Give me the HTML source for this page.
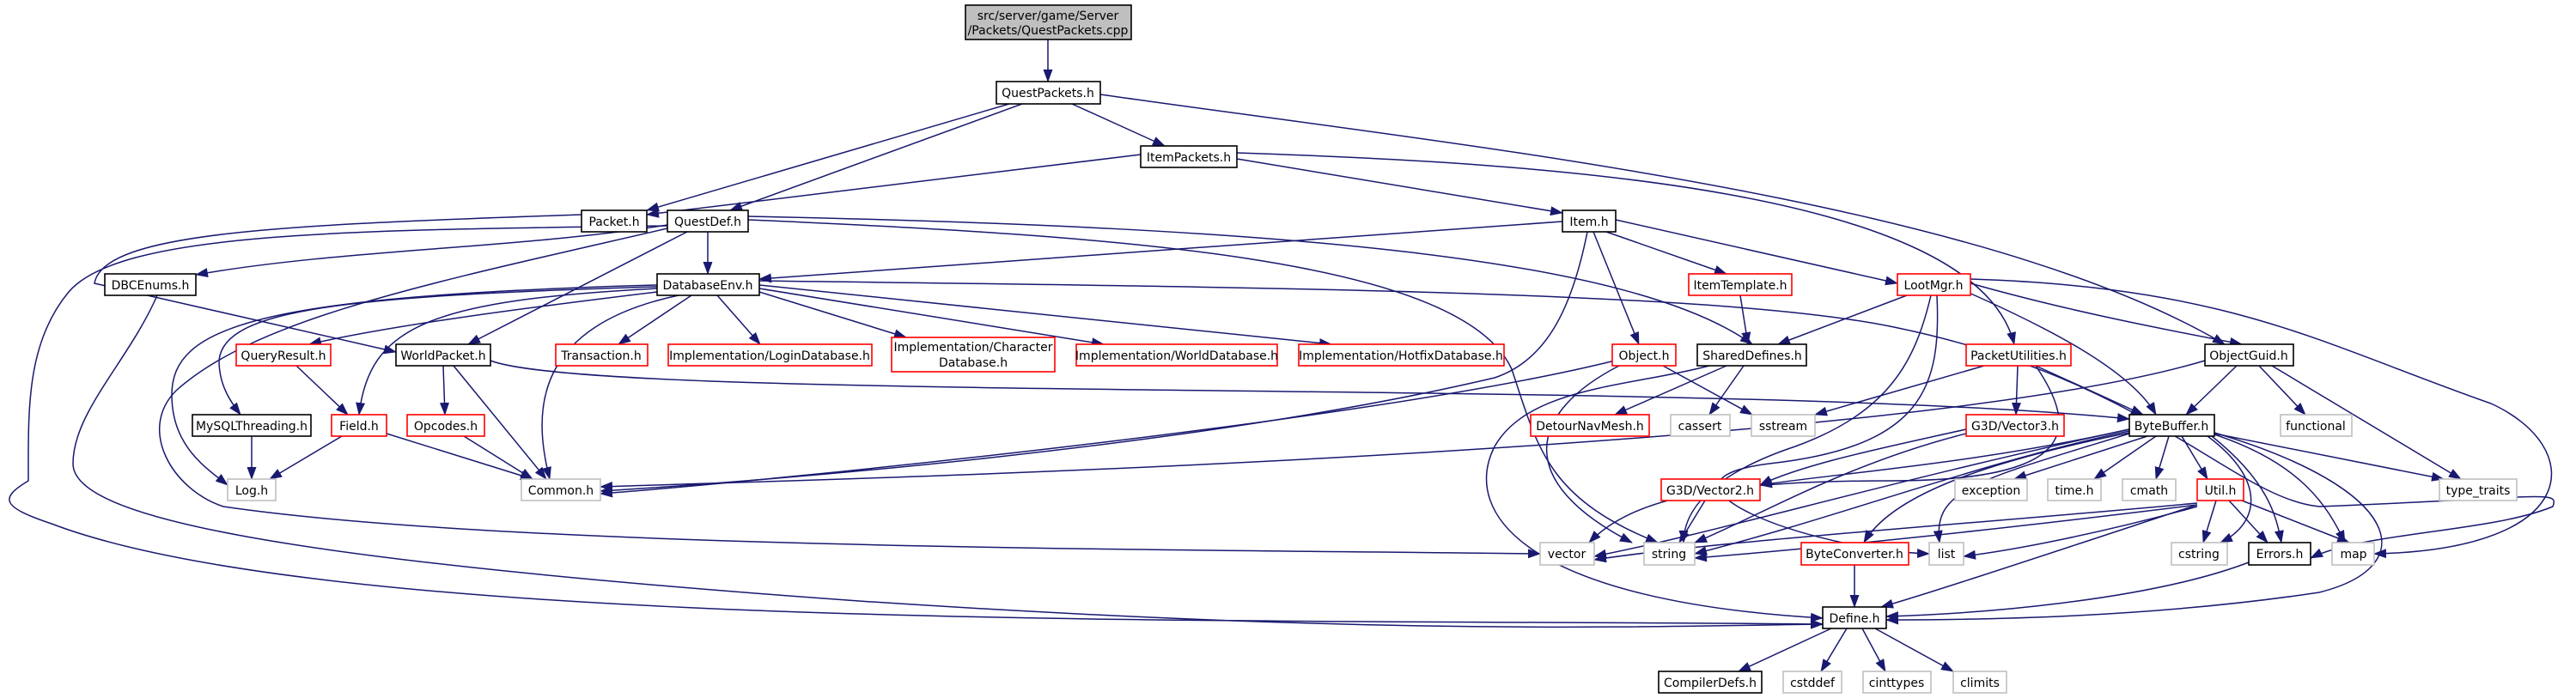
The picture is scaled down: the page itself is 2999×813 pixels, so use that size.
<!DOCTYPE html>
<html><head><meta charset="utf-8"><style>
html,body{margin:0;padding:0;background:#fff;}
svg{display:block;}
text{font-family:"DejaVu Sans","Liberation Sans",sans-serif;font-size:14px;fill:#000;text-anchor:middle;}
.b{fill:#fff;stroke:#000;stroke-width:1.6;}
.r{fill:#fff;stroke:#ff0000;stroke-width:1.6;}
.g{fill:#fff;stroke:#bfbfbf;stroke-width:1.6;}
.e{fill:none;stroke:#191970;stroke-width:1.5;marker-end:url(#a);}
</style></head><body>
<svg width="2999" height="813" viewBox="0 0 2999 813" xmlns="http://www.w3.org/2000/svg">
<defs><marker id="a" markerUnits="userSpaceOnUse" markerWidth="15" markerHeight="11" refX="14" refY="5.5" orient="auto"><path d="M0,0 L15,5.5 L0,11 z" fill="#191970"/></marker></defs>
<g>
<path class="e" d="M1220,46 L1220,95"/>
<path class="e" d="M1175,121 L753,245"/>
<path class="e" d="M1190,121 L850,245"/>
<path class="e" d="M1248,121 L1356,170"/>
<path class="e" d="M1281,110 C1700,170 2300,230 2590,401"/>
<path class="e" d="M1328,180 L753,250"/>
<path class="e" d="M1440,185 L1819,248"/>
<path class="e" d="M1440,178 C1800,190 2300,220 2345,401"/>
<path class="e" d="M677,250 C330,262 120,270 110,330 L461,410"/>
<path class="e" d="M777,262 C600,290 400,290 228,320"/>
<path class="e" d="M824,270 L824,319"/>
<path class="e" d="M800,270 L545,401"/>
<path class="e" d="M871,252 C1500,265 1900,300 2040,401"/>
<path class="e" d="M777,263 C400,268 140,270 80,340 C30,400 33,480 33,560 C0,580 0,590 60,610 C400,740 1500,720 2122,727"/>
<path class="e" d="M777,266 C500,330 300,370 205,455 C160,500 200,570 260,590 C600,640 1400,640 1793,645"/>
<path class="e" d="M871,256 C1300,275 1700,300 1760,430 C1790,520 1800,580 1930,632"/>
<path class="e" d="M183,344 C150,420 85,480 85,540 C85,600 300,650 1000,700 C1600,740 1900,730 2122,727"/>
<path class="e" d="M1819,258 L884,325"/>
<path class="e" d="M1870,270 L2010,319"/>
<path class="e" d="M1881,256 L2209,330"/>
<path class="e" d="M1855,270 L1908,401"/>
<path class="e" d="M1848,270 C1830,360 1800,420 1740,440 C1400,520 900,560 699,572"/>
<path class="e" d="M765,340 C600,360 450,380 360,401"/>
<path class="e" d="M765,334 C400,345 260,360 255,420 C255,450 270,470 280,483"/>
<path class="e" d="M765,336 C500,350 430,380 418,483"/>
<path class="e" d="M765,332 C300,345 200,380 200,460 C200,520 240,545 265,565"/>
<path class="e" d="M790,344 C620,380 620,480 640,558"/>
<path class="e" d="M805,344 L720,401"/>
<path class="e" d="M835,344 L885,401"/>
<path class="e" d="M884,340 L1055,393"/>
<path class="e" d="M884,336 L1285,401"/>
<path class="e" d="M884,332 L1550,401"/>
<path class="e" d="M884,327 C1500,335 2000,340 2200,380 C2500,440 2600,580 2700,590 C2960,580 2980,570 2972,590 C2900,620 2750,620 2690,650"/>
<path class="e" d="M2026,344 L2035,401"/>
<path class="e" d="M2220,344 L2070,401"/>
<path class="e" d="M2294,330 C2400,360 2500,380 2610,401"/>
<path class="e" d="M2294,325 C2600,335 2700,400 2900,470 C3010,520 3010,640 2764,645"/>
<path class="e" d="M2290,340 C2380,380 2480,430 2510,483"/>
<path class="e" d="M2248,344 C2230,420 2200,480 2090,520 C2000,550 1960,590 1960,632"/>
<path class="e" d="M2255,344 C2260,450 2240,520 2060,540 C1900,560 2100,640 2246,645"/>
<path class="e" d="M1880,420 C1600,490 900,560 699,575"/>
<path class="e" d="M1936,426 L2040,483"/>
<path class="e" d="M1885,426 C1780,480 1760,560 1900,632"/>
<path class="e" d="M2010,426 L1880,483"/>
<path class="e" d="M2030,426 L1990,483"/>
<path class="e" d="M1990,426 C1900,450 1780,450 1740,520 C1700,600 1780,700 2122,720"/>
<path class="e" d="M516,426 L518,483"/>
<path class="e" d="M528,426 L636,558"/>
<path class="e" d="M571,420 C700,470 2000,440 2479,488"/>
<path class="e" d="M345,426 L405,483"/>
<path class="e" d="M293,508 L293,558"/>
<path class="e" d="M398,508 L314,558"/>
<path class="e" d="M450,505 L620,558"/>
<path class="e" d="M540,508 L620,558"/>
<path class="e" d="M2310,426 L2113,483"/>
<path class="e" d="M2349,426 L2347,483"/>
<path class="e" d="M2370,426 L2495,483"/>
<path class="e" d="M2370,426 C2420,500 2420,560 2200,560 C2000,560 1900,580 1850,632"/>
<path class="e" d="M2604,426 L2545,483"/>
<path class="e" d="M2630,426 L2684,483"/>
<path class="e" d="M2645,426 L2865,558"/>
<path class="e" d="M2567,420 C2200,530 900,560 699,567"/>
<path class="e" d="M2289,500 C2200,520 2100,540 2049,565"/>
<path class="e" d="M2289,505 C2150,540 2050,600 1973,632"/>
<path class="e" d="M1985,583 L1955,632"/>
<path class="e" d="M2479,500 C2300,540 2150,550 2049,565"/>
<path class="e" d="M2500,508 L2345,558"/>
<path class="e" d="M2510,508 L2438,558"/>
<path class="e" d="M2525,508 L2510,558"/>
<path class="e" d="M2540,508 L2570,558"/>
<path class="e" d="M2578,505 L2845,558"/>
<path class="e" d="M2570,508 C2640,560 2630,610 2585,632"/>
<path class="e" d="M2575,508 C2640,560 2650,600 2656,632"/>
<path class="e" d="M2578,506 C2680,540 2710,590 2730,632"/>
<path class="e" d="M2578,504 C2800,570 2820,660 2700,690 C2500,720 2300,722 2196,722"/>
<path class="e" d="M2479,505 C2300,560 2250,570 2258,632"/>
<path class="e" d="M2479,502 C2300,540 2150,600 1973,645"/>
<path class="e" d="M2479,500 C2200,560 2000,620 1856,648"/>
<path class="e" d="M2479,504 C2300,540 2200,580 2170,632"/>
<path class="e" d="M2558,590 C2450,620 2350,640 2286,648"/>
<path class="e" d="M2558,588 C2300,620 2100,640 1973,650"/>
<path class="e" d="M2558,586 C2300,610 2000,630 1856,652"/>
<path class="e" d="M2558,588 C2400,640 2250,690 2190,707"/>
<path class="e" d="M2580,583 L2565,632"/>
<path class="e" d="M2595,583 L2640,632"/>
<path class="e" d="M2610,583 L2735,632"/>
<path class="e" d="M2159,658 L2159,707"/>
<path class="e" d="M2618,655 C2500,700 2300,715 2196,718"/>
<path class="e" d="M2132,732 L2024,782"/>
<path class="e" d="M2150,732 L2120,782"/>
<path class="e" d="M2168,732 L2195,782"/>
<path class="e" d="M2183,732 L2274,782"/>
</g>
<g>
<rect x="1124" y="6" width="193" height="40" fill="#bfbfbf" stroke="#000" stroke-width="1.6"/>
<text x="1220" y="23">src/server/game/Server</text><text x="1220" y="40">/Packets/QuestPackets.cpp</text>
<rect class="b" x="1160" y="95" width="121" height="26"/><text x="1220" y="113">QuestPackets.h</text>
<rect class="b" x="1328" y="170" width="112" height="25"/><text x="1384" y="188">ItemPackets.h</text>
<rect class="b" x="677" y="245" width="76" height="25"/><text x="715" y="263">Packet.h</text>
<rect class="b" x="777" y="245" width="94" height="25"/><text x="824" y="263">QuestDef.h</text>
<rect class="b" x="1819" y="245" width="62" height="25"/><text x="1850" y="263">Item.h</text>
<rect class="b" x="122" y="319" width="106" height="25"/><text x="175" y="337">DBCEnums.h</text>
<rect class="b" x="765" y="319" width="119" height="25"/><text x="824" y="337">DatabaseEnv.h</text>
<rect class="r" x="1966" y="319" width="120" height="25"/><text x="2026" y="337">ItemTemplate.h</text>
<rect class="r" x="2209" y="319" width="85" height="25"/><text x="2251" y="337">LootMgr.h</text>
<rect class="r" x="275" y="401" width="110" height="25"/><text x="330" y="419">QueryResult.h</text>
<rect class="b" x="461" y="401" width="110" height="25"/><text x="516" y="419">WorldPacket.h</text>
<rect class="r" x="647" y="401" width="107" height="25"/><text x="700" y="419">Transaction.h</text>
<rect class="r" x="778" y="401" width="237" height="25"/><text x="896" y="419">Implementation/LoginDatabase.h</text>
<rect class="r" x="1038" y="393" width="190" height="40"/><text x="1133" y="409">Implementation/Character</text><text x="1133" y="427">Database.h</text>
<rect class="r" x="1253" y="401" width="234" height="25"/><text x="1370" y="419">Implementation/WorldDatabase.h</text>
<rect class="r" x="1512" y="401" width="239" height="25"/><text x="1631" y="419">Implementation/HotfixDatabase.h</text>
<rect class="r" x="1877" y="401" width="74" height="25"/><text x="1914" y="419">Object.h</text>
<rect class="b" x="1976" y="401" width="127" height="25"/><text x="2040" y="419">SharedDefines.h</text>
<rect class="r" x="2289" y="401" width="122" height="25"/><text x="2350" y="419">PacketUtilities.h</text>
<rect class="b" x="2567" y="401" width="103" height="25"/><text x="2618" y="419">ObjectGuid.h</text>
<rect class="b" x="224" y="483" width="138" height="25"/><text x="293" y="501">MySQLThreading.h</text>
<rect class="r" x="386" y="483" width="64" height="25"/><text x="418" y="501">Field.h</text>
<rect class="r" x="474" y="483" width="90" height="25"/><text x="519" y="501">Opcodes.h</text>
<rect class="r" x="1782" y="483" width="138" height="25"/><text x="1851" y="501">DetourNavMesh.h</text>
<rect class="g" x="1945" y="483" width="69" height="25"/><text x="1979" y="501">cassert</text>
<rect class="g" x="2039" y="483" width="74" height="25"/><text x="2076" y="501">sstream</text>
<rect class="r" x="2289" y="483" width="114" height="25"/><text x="2346" y="501">G3D/Vector3.h</text>
<rect class="b" x="2479" y="483" width="99" height="25"/><text x="2528" y="501">ByteBuffer.h</text>
<rect class="g" x="2655" y="483" width="83" height="25"/><text x="2696" y="501">functional</text>
<rect class="g" x="265" y="558" width="56" height="25"/><text x="293" y="576">Log.h</text>
<rect class="g" x="607" y="558" width="92" height="25"/><text x="653" y="576">Common.h</text>
<rect class="r" x="1934" y="558" width="115" height="25"/><text x="1991" y="576">G3D/Vector2.h</text>
<rect class="g" x="2276" y="558" width="84" height="25"/><text x="2318" y="576">exception</text>
<rect class="g" x="2384" y="558" width="62" height="25"/><text x="2415" y="576">time.h</text>
<rect class="g" x="2471" y="558" width="62" height="25"/><text x="2502" y="576">cmath</text>
<rect class="r" x="2558" y="558" width="54" height="25"/><text x="2585" y="576">Util.h</text>
<rect class="g" x="2840" y="558" width="90" height="25"/><text x="2885" y="576">type_traits</text>
<rect class="g" x="1793" y="632" width="63" height="26"/><text x="1824" y="650">vector</text>
<rect class="g" x="1914" y="632" width="59" height="26"/><text x="1943" y="650">string</text>
<rect class="r" x="2097" y="632" width="125" height="26"/><text x="2159" y="650">ByteConverter.h</text>
<rect class="g" x="2246" y="632" width="40" height="26"/><text x="2266" y="650">list</text>
<rect class="g" x="2528" y="632" width="65" height="26"/><text x="2560" y="650">cstring</text>
<rect class="b" x="2618" y="632" width="72" height="26"/><text x="2654" y="650">Errors.h</text>
<rect class="g" x="2715" y="632" width="49" height="26"/><text x="2740" y="650">map</text>
<rect class="b" x="2122" y="707" width="74" height="25"/><text x="2159" y="725">Define.h</text>
<rect class="b" x="1931" y="782" width="120" height="25"/><text x="1991" y="800">CompilerDefs.h</text>
<rect class="g" x="2076" y="782" width="68" height="25"/><text x="2110" y="800">cstddef</text>
<rect class="g" x="2169" y="782" width="79" height="25"/><text x="2208" y="800">cinttypes</text>
<rect class="g" x="2274" y="782" width="62" height="25"/><text x="2305" y="800">climits</text>
</g>
</svg>
</body></html>
